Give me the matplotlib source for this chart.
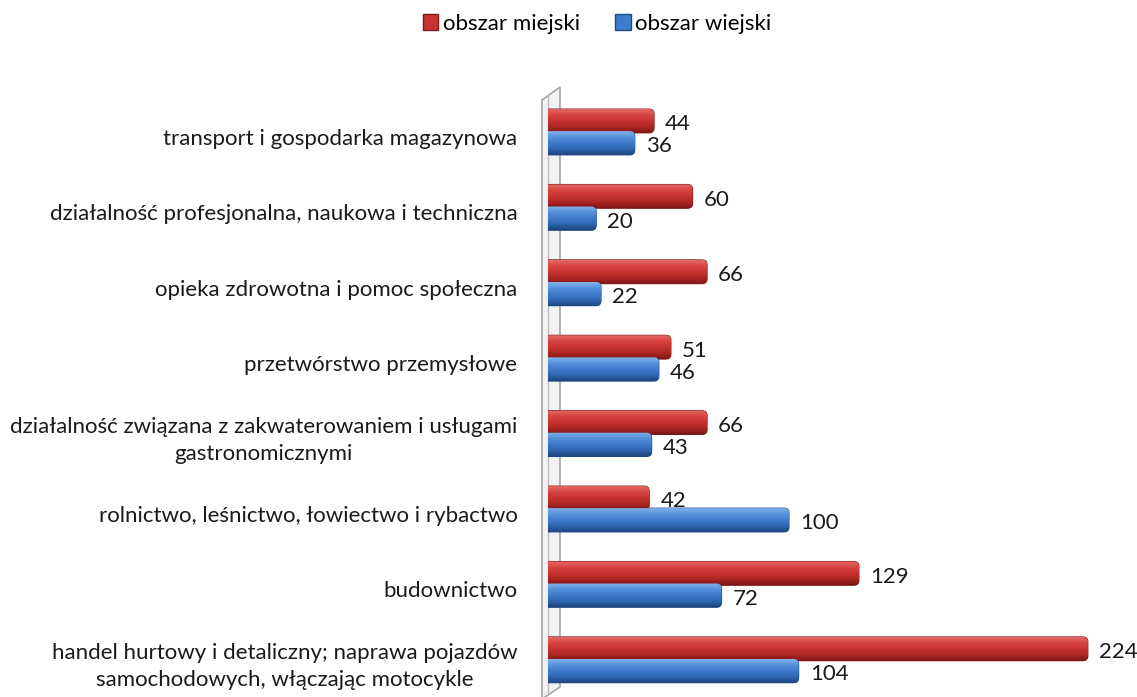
import matplotlib.pyplot as plt
import numpy as np
from matplotlib.patches import Patch, Polygon, FancyBboxPatch
from matplotlib.colors import LinearSegmentedColormap

# Data
categories = [
    'transport i gospodarka magazynowa',
    'działalność profesjonalna, naukowa i techniczna',
    'opieka zdrowotna i pomoc społeczna',
    'przetwórstwo przemysłowe',
    'działalność związana z zakwaterowaniem i usługami\ngastronomicznymi',
    'rolnictwo, leśnictwo, łowiectwo i rybactwo',
    'budownictwo',
    'handel hurtowy i detaliczny; naprawa pojazdów\nsamochodowych, włączając motocykle',
]
miejski = [44, 60, 66, 51, 66, 42, 129, 224]
wiejski = [36, 20, 22, 46, 43, 100, 72, 104]
series_names = ['obszar miejski', 'obszar wiejski']

plt.rcParams['font.family'] = ['Lato', 'DejaVu Sans']
FS = 16

W, H = 1137, 697
fig = plt.figure(figsize=(W / 100, H / 100), dpi=100)

# axes placed in pixel terms
ax_left, ax_right, ax_top, ax_bottom = 548, 1137, 85, 697
ax = fig.add_axes([ax_left / W, 1 - ax_bottom / H,
                   (ax_right - ax_left) / W, (ax_bottom - ax_top) / H])
XMAX = 244.4
YLIM = (7.493, -0.623)
ax.set_xlim(0, XMAX)
ax.set_ylim(*YLIM)
ax.axis('off')

# back wall (decoration), in axes fraction
def px(x, y):
    return ((x - ax_left) / (ax_right - ax_left), (ax_bottom - y) / (ax_bottom - ax_top))

wall = Polygon([px(542, 100), px(560, 87), px(560, 687), px(542, 699)],
               closed=True, transform=ax.transAxes, facecolor='#f2f2f2',
               edgecolor='#a6a6a6', linewidth=1.2, clip_on=False, zorder=1)
ax.add_patch(wall)
ax.plot(*zip(px(548, 95), px(548, 693)), transform=ax.transAxes, color='#bfbfbf',
        lw=1, clip_on=False, zorder=1)

y = np.arange(len(categories))
off = 0.146
h = 0.315

red_cmap = LinearSegmentedColormap.from_list('r', ['#e56a66', '#d84442', '#c7332f', '#ad2624', '#7e1716'])
blue_cmap = LinearSegmentedColormap.from_list('b', ['#82b2ea', '#5591db', '#3f7bcb', '#2f66b2', '#1d4680'])

grad = np.linspace(0, 1, 64).reshape(-1, 1)

# data units per pixel, for rounded bar ends
x_per_px = XMAX / (ax_right - ax_left)
y_per_px = (YLIM[0] - YLIM[1]) / (ax_bottom - ax_top)
r_px = 5

def draw(vals, ypos, cmap, edge):
    bars = ax.barh(ypos, vals, height=h, color='none', edgecolor='none', zorder=3)
    for b in bars:
        x0, y0 = b.get_x(), b.get_y()
        w, hh = b.get_width(), b.get_height()
        start = x0 - 3 * r_px * x_per_px
        fb = FancyBboxPatch((start, y0), x0 + w - start, hh,
                            boxstyle=f'round,pad=0,rounding_size={r_px * x_per_px}',
                            mutation_aspect=y_per_px / x_per_px,
                            facecolor=cmap(0.4), edgecolor=edge, linewidth=0.8, zorder=3)
        ax.add_patch(fb)
        im = ax.imshow(grad, cmap=cmap, aspect='auto', extent=(start, x0 + w, y0, y0 + hh),
                       origin='lower', zorder=4, interpolation='bilinear')
        im.set_clip_path(fb)
    return bars

draw(miejski, y - off, red_cmap, '#7a1a18')
draw(wiejski, y + off, blue_cmap, '#1f4a85')
ax.set_xlim(0, XMAX)
ax.set_ylim(*YLIM)

for yi, v in zip(y - off, miejski):
    ax.annotate(str(v), (v, yi), xytext=(8, -2.5), textcoords='offset points',
                ha='left', va='center', fontsize=FS, color='#1a1a1a', zorder=6)
for yi, v in zip(y + off, wiejski):
    ax.annotate(str(v), (v, yi), xytext=(8, -2.5), textcoords='offset points',
                ha='left', va='center', fontsize=FS, color='#1a1a1a', zorder=6)

for yi, lab in zip(y, categories):
    ax.annotate(lab, (0, yi), xytext=(-22, -5), textcoords='offset points',
                ha='right', va='center', multialignment='center',
                fontsize=FS, color='#1a1a1a', linespacing=1.45, annotation_clip=False)

handles = [Patch(facecolor='#c7332f', edgecolor='#7a1a18'),
           Patch(facecolor='#3f7bcb', edgecolor='#1f4a85')]
fig.legend(handles, series_names, loc='center', bbox_to_anchor=(597 / W, 1 - 24 / H),
           ncol=2, frameon=False, fontsize=FS, handlelength=0.7, handleheight=0.7,
           handletextpad=0.2, columnspacing=1.6)

fig.savefig('out.png', dpi=100)
